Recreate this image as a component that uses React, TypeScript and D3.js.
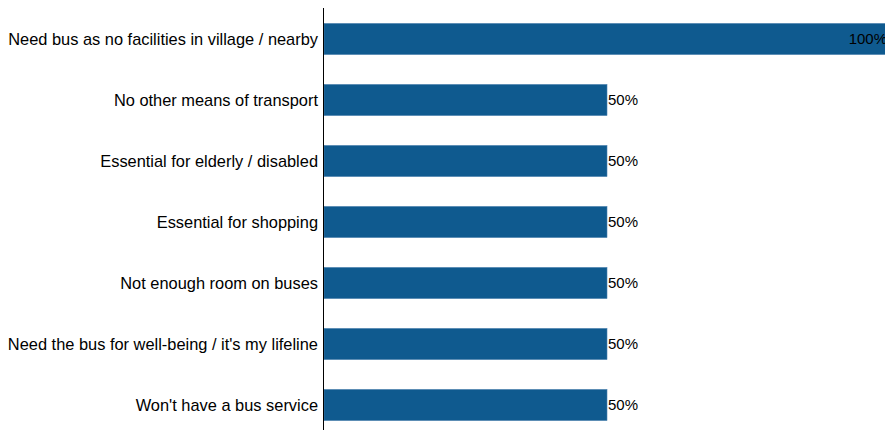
import React from "react";
import * as d3 from "d3";

const categories = [
  "Need bus as no facilities in village / nearby",
  "No other means of transport",
  "Essential for elderly / disabled",
  "Essential for shopping",
  "Not enough room on buses",
  "Need the bus for well-being / it's my lifeline",
  "Won't have a bus service",
];
const values = [100, 50, 50, 50, 50, 50, 50];

const W = 885;
const H = 430;
const x0 = 324;
const x1 = 890;

export default function App() {
  const x = d3.scaleLinear().domain([0, 100]).range([x0, x1]);
  const y = d3.scaleBand<string>().domain(categories).range([8.5, 435.5]).paddingInner(0.49).paddingOuter(0.245);
  return (
    <svg width={W} height={H} style={{ position: "absolute", left: 0, top: 0, background: "#fff" }}
      fontFamily="'Liberation Sans', Arial, sans-serif">
      {categories.map((c, i) => {
        const yy = y(c)!;
        const bw = y.bandwidth();
        const xe = x(values[i]);
        const inside = xe + 30 > W;
        return (
          <g key={c}>
            <rect x={x(0)} y={yy} width={xe - x(0)} height={bw} fill="#0F5A8F" stroke="#4B80AE" strokeWidth={0.6} />
            <text x={318} y={yy + bw / 2} dy="0.35em" textAnchor="end" fontSize={16.4} fill="#000">{c}</text>
            <text x={inside ? xe - 3 : xe + 1} y={yy + bw / 2} dy="0.35em" textAnchor={inside ? "end" : "start"} fontSize={15} fill="#000">{values[i]}%</text>
          </g>
        );
      })}
      <line x1={x0 - 0.5} x2={x0 - 0.5} y1={8} y2={H} stroke="#000" strokeWidth={1} />
    </svg>
  );
}
